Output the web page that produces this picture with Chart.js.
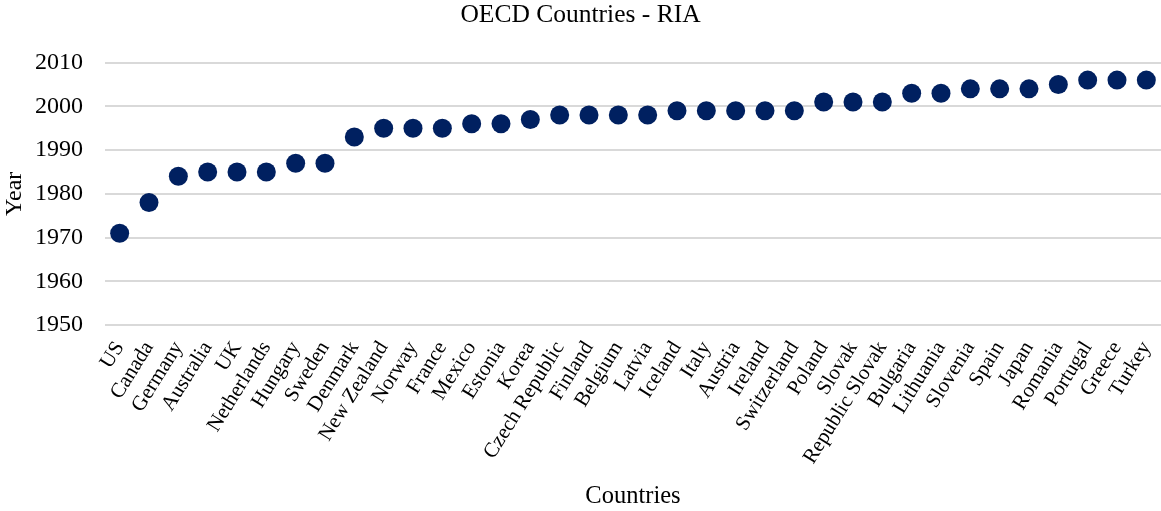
<!DOCTYPE html>
<html>
<head>
<meta charset="utf-8">
<script src="https://cdn.jsdelivr.net/npm/chart.js@4/dist/chart.umd.min.js"></script>
<style>
  html, body { margin: 0; padding: 0; background: #fff; }
  #wrap { width: 1161px; height: 511px; }
</style>
</head>
<body>
<div id="wrap"><canvas id="ria"></canvas></div>
<script>
var countries = ['US', 'Canada', 'Germany', 'Australia', 'UK', 'Netherlands', 'Hungary', 'Sweden',
  'Denmark', 'New Zealand', 'Norway', 'France', 'Mexico', 'Estonia', 'Korea', 'Czech Republic',
  'Finland', 'Belgium', 'Latvia', 'Iceland', 'Italy', 'Austria', 'Ireland', 'Switzerland',
  'Poland', 'Slovak', 'Republic Slovak', 'Bulgaria', 'Lithuania', 'Slovenia', 'Spain', 'Japan',
  'Romania', 'Portugal', 'Greece', 'Turkey'];
var years = [1971, 1978, 1984, 1985, 1985, 1985, 1987, 1987,
  1993, 1995, 1995, 1995, 1996, 1996, 1997, 1998,
  1998, 1998, 1998, 1999, 1999, 1999, 1999, 1999,
  2001, 2001, 2001, 2003, 2003, 2004, 2004, 2004,
  2005, 2006, 2006, 2006];
var yMin = 1950, yMax = 2010, yStep = 10;

var serif = '"Liberation Serif", "Times New Roman", serif';
Chart.defaults.font.family = serif;
Chart.defaults.color = '#000';

window.onload = function () {
  var config = {
    type: 'line',
    data: {
      labels: countries,
      datasets: [{
        label: 'RIA',
        data: years,
        showLine: false,
        backgroundColor: '#002060',
        borderColor: '#002060',
        pointRadius: 9.5,
        pointHoverRadius: 9.5,
        pointBorderWidth: 0
      }]
    },
    options: {
      responsive: true,
      maintainAspectRatio: false,
      animation: false,
      layout: { autoPadding: false, padding: 0 },
      plugins: {
        legend: { display: false },
        tooltip: { enabled: false },
        title: {
          display: true,
          text: 'OECD Countries - RIA',
          font: { size: 25.5, weight: 'normal' },
          color: '#000',
          padding: { top: 0, bottom: 32 }
        }
      },
      scales: {
        x: {
          offset: true,
          grid: { display: false, drawTicks: false },
          border: { display: false },
          ticks: {
            autoSkip: false,
            minRotation: 58,
            maxRotation: 58,
            padding: 12,
            font: { size: 21 }
          },
          title: {
            display: true,
            text: 'Countries',
            font: { size: 24.5 },
            padding: { top: 1, bottom: 0 }
          },
          // rotated labels end at their ticks, so no side padding is needed
          afterFit: function (scale) {
            scale.paddingLeft = 0;
            scale.paddingRight = 0;
          }
        },
        y: {
          min: yMin,
          max: yMax,
          grid: { color: '#d9d9d9', lineWidth: 2, drawTicks: false },
          border: { display: false },
          ticks: {
            stepSize: yStep,
            padding: 22,
            font: { size: 24 },
            callback: function (v) { return String(v); }
          },
          title: {
            display: true,
            text: 'Year',
            font: { size: 24 },
            padding: { top: 0, bottom: 8 }
          },
          // fixed axis width keeps the plot starting where the labels end
          afterFit: function (scale) {
            scale.width = 105;
          }
        }
      }
    }
  };
  new Chart(document.getElementById('ria'), config);
};
</script>
</body>
</html>
